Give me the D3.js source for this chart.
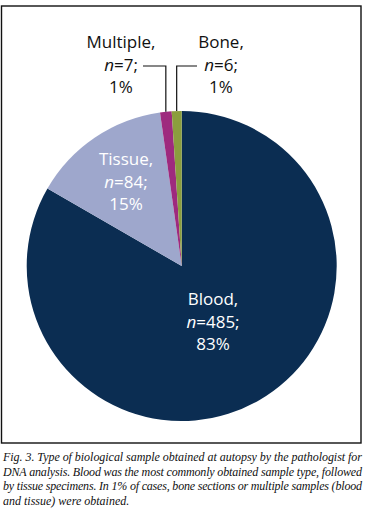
<!DOCTYPE html>
<html><head><meta charset="utf-8">
<script src="https://cdn.jsdelivr.net/npm/d3@7"></script>
<style>
html,body{margin:0;padding:0;background:#fff;}
svg{display:block;}
</style></head>
<body>
<svg id="chart" width="368" height="514"></svg>
<script>
const categories = ["Blood", "Tissue", "Multiple", "Bone"];
const counts = [485, 84, 7, 6];
const percents = ["83%", "15%", "1%", "1%"];
const colors = ["#0b2d52", "#9ea7cc", "#9e2a7e", "#8b9e3e"];
const captionLines = [
  "Fig. 3. Type of biological sample obtained at autopsy by the pathologist for",
  "DNA analysis. Blood was the most commonly obtained sample type, followed",
  "by tissue specimens. In 1% of cases, bone sections or multiple samples (blood",
  "and tissue) were obtained."
];

const svg = d3.select("#chart");
const cx = 181.7, cy = 266, r = 155;

// frame
svg.append("rect").attr("x", 1.5).attr("y", 6).attr("width", 359.5).attr("height", 437)
  .attr("fill", "none").attr("stroke", "#111").attr("stroke-width", 1.4);

const data = categories.map((c, i) => ({cat: c, n: counts[i], pct: percents[i], color: colors[i]}));
const pie = d3.pie().sort(null).value(d => d.n).startAngle(0).endAngle(2 * Math.PI);
const arcs = pie(data);
const arc = d3.arc().innerRadius(0).outerRadius(r);

const g = svg.append("g").attr("transform", `translate(${cx},${cy})`);
g.selectAll("path").data(arcs).enter().append("path")
  .attr("d", arc).attr("fill", d => d.data.color);

// label layout (positions only)
const labelPos = {
  Blood: {x: 213, y: 305, fill: "#ffffff"},
  Tissue: {x: 126, y: 165, fill: "#ffffff"},
  Multiple: {x: 121, y: 48, fill: "#111111"},
  Bone: {x: 221, y: 48, fill: "#111111"}
};
const lh = 22.5;
const font = "'Open Sans', 'Noto Sans', sans-serif";

arcs.forEach(a => {
  const p = labelPos[a.data.cat];
  const t = svg.append("text").attr("text-anchor", "middle")
    .attr("font-family", font).attr("font-size", 17).attr("fill", p.fill);
  t.append("tspan").attr("x", p.x).attr("y", p.y).text(a.data.cat + ",");
  const l2 = t.append("tspan").attr("x", p.x).attr("y", p.y + lh);
  l2.append("tspan").attr("font-style", "italic").text("n");
  l2.append("tspan").text("=" + a.data.n + ";");
  t.append("tspan").attr("x", p.x).attr("y", p.y + 2 * lh).text(a.data.pct);
});

// leader lines for small slices
const leaderY = 66;
arcs.filter(a => a.data.cat === "Multiple" || a.data.cat === "Bone").forEach(a => {
  const mid = (a.startAngle + a.endAngle) / 2;
  const ex = cx + r * Math.sin(mid), ey = cy - r * Math.cos(mid);
  const hx = a.data.cat === "Multiple" ? 143 : 197;
  svg.append("path")
    .attr("d", `M${hx},${leaderY}H${ex}V${ey}`)
    .attr("fill", "none").attr("stroke", "#111").attr("stroke-width", 1.2);
});

// caption
const cap = svg.append("g").attr("font-family", "'Liberation Serif', 'DejaVu Serif', serif")
  .attr("font-style", "italic").attr("font-size", 12).attr("fill", "#111");
captionLines.forEach((line, i) => {
  const t = cap.append("text").attr("x", 3).attr("y", 461 + i * 14.5).text(line);
  if (i < captionLines.length - 1) t.attr("textLength", 359).attr("lengthAdjust", "spacing");
});
</script>
</body></html>
